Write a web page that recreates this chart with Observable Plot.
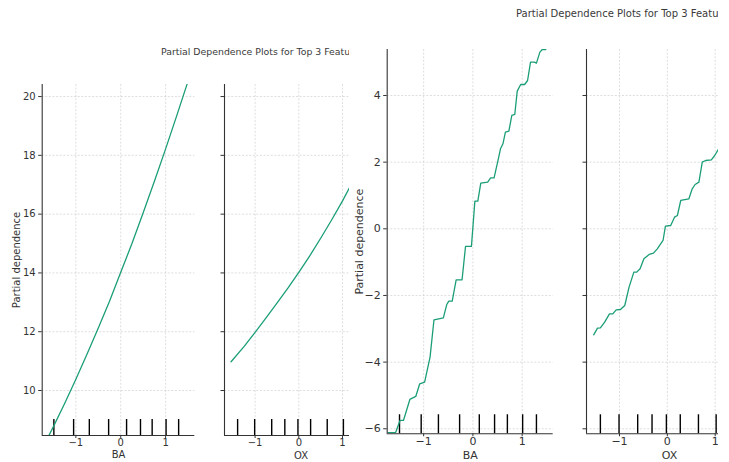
<!DOCTYPE html>
<html>
<head>
<meta charset="utf-8">
<script src="https://cdn.jsdelivr.net/npm/d3@7"></script>
<script src="https://cdn.jsdelivr.net/npm/@observablehq/plot@0.6"></script>
<style>
  html, body { margin: 0; padding: 0; background: #fff; }
  #root { position: relative; width: 729px; height: 462px; overflow: hidden; background: #fff; font-family: "DejaVu Sans", sans-serif; }
  .fig { position: absolute; top: 0; height: 462px; overflow: hidden; background: #fff; }
  .fig svg { position: absolute; top: 0; }
  .title { position: absolute; white-space: nowrap; color: #3a3a3a; }
</style>
</head>
<body>
<div id="root">
  <div class="fig" id="figL" style="left:0;width:349px;"></div>
  <div class="fig" id="figR" style="left:349px;width:369px;"></div>
</div>
<script>
// ---------- data ----------
const titleText = "Partial Dependence Plots for Top 3 Featu";
const yLabel = "Partial dependence";
const xTicks = [-1, 0, 1];
const yTicksSmall = [10, 12, 14, 16, 18, 20];
const yTicksLarge = [-6, -4, -2, 0, 2, 4];

// first (smaller) figure: smooth curves
const baXSmall = [-1.64, -1.5, -1.25, -1.0, -0.75, -0.5, -0.25, 0, 0.25, 0.5, 0.75, 1.0, 1.25, 1.48];
const baYSmall = [8.35, 8.77, 9.56, 10.38, 11.24, 12.13, 13.04, 14.02, 15.0, 16.05, 17.12, 18.22, 19.36, 20.43];
const oxXSmall = [-1.55, -1.25, -1.0, -0.75, -0.5, -0.25, 0, 0.25, 0.5, 0.75, 1.0, 1.25];
const oxYSmall = [10.98, 11.5, 11.98, 12.47, 12.97, 13.48, 14.02, 14.58, 15.18, 15.8, 16.45, 17.15];

// second (larger) figure: stepped curves
const baXLarge = [-1.72, -1.57, -1.48, -1.41, -1.28, -1.16, -1.08, -0.98, -0.87, -0.79, -0.60, -0.53, -0.49, -0.42, -0.34, -0.22, -0.15, -0.03, 0.04, 0.10, 0.16, 0.30, 0.36, 0.43, 0.51, 0.56, 0.61, 0.66, 0.73, 0.79, 0.85, 0.90, 0.97, 1.05, 1.11, 1.17, 1.25, 1.29, 1.36, 1.41, 1.48];
const baYLarge = [-6.12, -6.12, -5.75, -5.75, -5.12, -5.03, -4.65, -4.60, -3.85, -2.73, -2.67, -2.27, -2.17, -2.17, -1.53, -1.53, -0.53, -0.53, 0.83, 0.83, 1.37, 1.40, 1.53, 1.53, 2.05, 2.40, 2.55, 2.90, 2.93, 3.40, 3.43, 4.13, 4.33, 4.33, 4.45, 5.0, 5.0, 4.97, 5.30, 5.38, 5.38];
const oxXLarge = [-1.54, -1.46, -1.40, -1.31, -1.21, -1.14, -1.07, -0.98, -0.89, -0.80, -0.70, -0.64, -0.57, -0.49, -0.38, -0.29, -0.21, -0.14, -0.09, -0.04, 0.07, 0.15, 0.21, 0.28, 0.45, 0.52, 0.58, 0.66, 0.73, 0.80, 0.92, 0.99, 1.06, 1.12];
const oxYLarge = [-3.18, -2.98, -2.97, -2.80, -2.55, -2.55, -2.43, -2.42, -2.30, -1.75, -1.30, -1.30, -1.20, -0.90, -0.77, -0.73, -0.60, -0.45, -0.35, 0.08, 0.10, 0.35, 0.40, 0.85, 0.90, 1.20, 1.33, 1.40, 2.0, 2.05, 2.07, 2.20, 2.37, 2.55];

// deciles (rug)
const baDeciles = [-1.49, -1.05, -0.70, -0.27, 0.13, 0.44, 0.70, 1.01, 1.29];
const oxDeciles = [-1.40, -1.01, -0.62, -0.32, -0.02, 0.27, 0.65, 1.02];

// ---------- drawing ----------
const lineColor = "#1b9e77";
const axisColor = "#333";
const gridStyle = {stroke: "#c4c4c4", strokeOpacity: 0.8, strokeDasharray: "2,1.6", strokeWidth: 0.7};
const intFmt = d3.format("d");

function panel(o) {
  const rows = o.xs.map((x, i) => ({x, y: o.ys[i]}));
  const frameH = o.height - o.marginTop - o.marginBottom;
  const fw = o.frameW;
  return Plot.plot({
    width: o.marginLeft + fw,
    height: o.height,
    marginLeft: o.marginLeft,
    marginRight: 0,
    marginTop: o.marginTop,
    marginBottom: o.marginBottom,
    style: {fontFamily: "DejaVu Sans", fontSize: o.fs + "px", color: axisColor, background: "transparent", overflow: "visible"},
    x: {domain: o.xDomain},
    y: {domain: o.yDomain},
    marks: [
      Plot.gridX(xTicks, gridStyle),
      Plot.gridY(o.yTicks, gridStyle),
      Plot.ruleX(o.deciles, {stroke: "#000", strokeWidth: 1.4, insetTop: frameH - o.rugLen}),
      Plot.line(rows, {x: "x", y: "y", stroke: lineColor, strokeWidth: 1.3, clip: true}),
      Plot.ruleX([o.xDomain[0]], {stroke: axisColor, strokeWidth: 1.1}),
      Plot.ruleY([o.yDomain[0]], {stroke: axisColor, strokeWidth: 1.1}),
      Plot.axisX({ticks: xTicks, tickFormat: intFmt, tickSize: 3, tickPadding: o.xPad, label: o.xLabel, labelAnchor: "center", labelOffset: o.xLabelOffset, labelArrow: "none"}),
      Plot.axisY({ticks: o.yTicks, tickSize: 3.5, tickPadding: 3,
        tickFormat: o.showY ? intFmt : () => "",
        label: o.showY ? yLabel : null, labelAnchor: "center", labelOffset: o.yLabelOffset, labelArrow: "none"})
    ]
  });
}

function place(container, svg, left) {
  svg.style.left = left + "px";
  container.appendChild(svg);
}

const figL = document.getElementById("figL");
const figR = document.getElementById("figR");

// small figure
const tL = document.createElement("div");
tL.className = "title";
tL.textContent = titleText;
tL.style.cssText = "left:161px;top:46px;font-size:9.35px;";
figL.appendChild(tL);

place(figL, panel({xs: baXSmall, ys: baYSmall, deciles: baDeciles, xDomain: [-1.75, 1.65], yDomain: [8.47, 20.41],
  yTicks: yTicksSmall, height: 462, marginTop: 84, marginBottom: 27, marginLeft: 41.7, frameW: 152.6,
  fs: 10, rugLen: 16, xLabel: "BA", xPad: 0, xLabelOffset: 23, showY: true, yLabelOffset: 29}), 0);
place(figL, panel({xs: oxXSmall, ys: oxYSmall, deciles: oxDeciles, xDomain: [-1.70, 1.80], yDomain: [8.47, 20.41],
  yTicks: yTicksSmall, height: 462, marginTop: 84, marginBottom: 27, marginLeft: 10, frameW: 153,
  fs: 10, rugLen: 16, xLabel: "OX", xPad: 0, xLabelOffset: 23, showY: false}), 214.3);

// large figure
const tR = document.createElement("div");
tR.className = "title";
tR.textContent = titleText;
tR.style.cssText = "left:167px;top:8px;font-size:10px;";
figR.appendChild(tR);

place(figR, panel({xs: baXLarge, ys: baYLarge, deciles: baDeciles, xDomain: [-1.74, 1.63], yDomain: [-6.15, 5.38],
  yTicks: yTicksLarge, height: 462, marginTop: 49, marginBottom: 28.7, marginLeft: 37.7, frameW: 166,
  fs: 11, rugLen: 19, xLabel: "BA", xPad: 0, xLabelOffset: 25, showY: true, yLabelOffset: 32}), 0);
place(figR, panel({xs: oxXLarge, ys: oxYLarge, deciles: oxDeciles, xDomain: [-1.69, 1.78], yDomain: [-6.15, 5.38],
  yTicks: yTicksLarge, height: 462, marginTop: 49, marginBottom: 28.7, marginLeft: 10, frameW: 166,
  fs: 11, rugLen: 19, xLabel: "OX", xPad: 0, xLabelOffset: 25, showY: false}), 227);
</script>
</body>
</html>
